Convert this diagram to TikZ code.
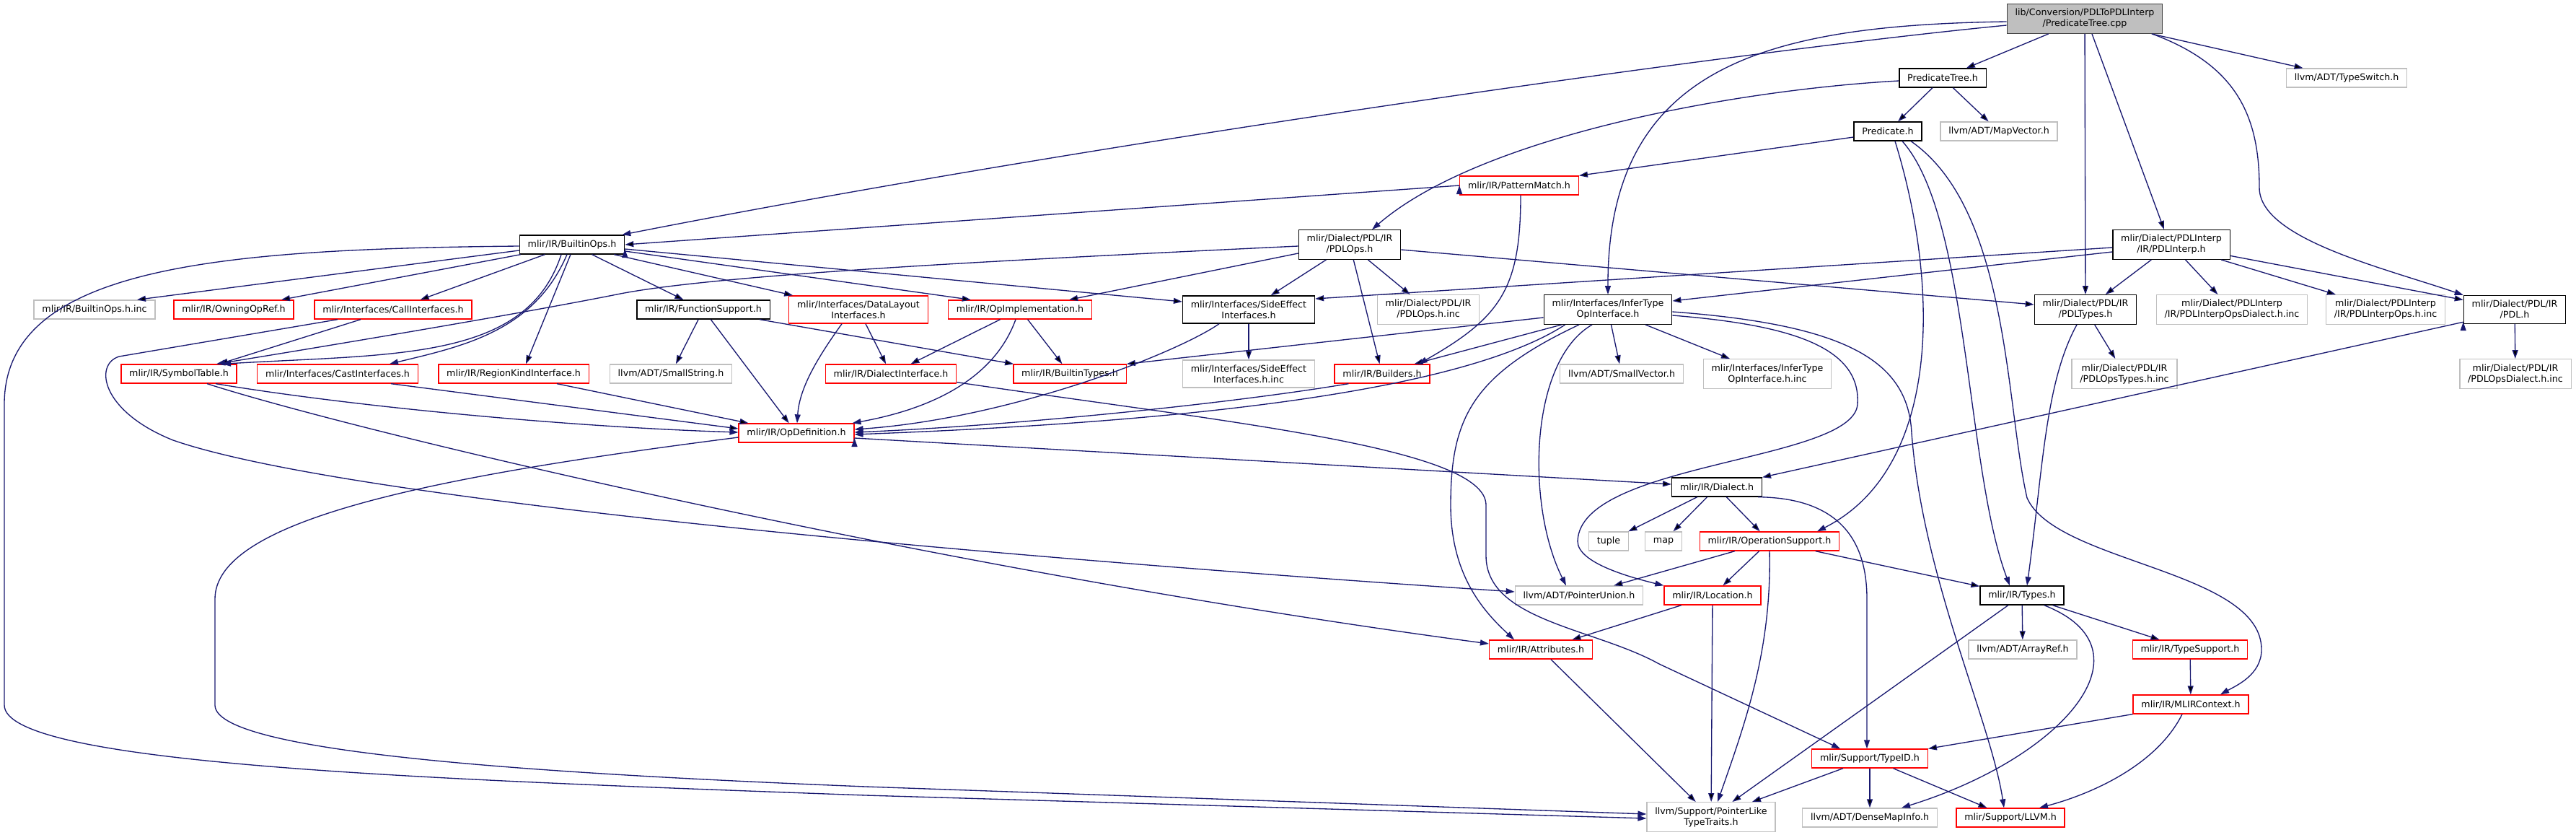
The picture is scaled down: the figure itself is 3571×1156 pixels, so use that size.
\documentclass[tikz,border=0pt]{standalone}
\usepackage{fontspec}
\setmainfont{DejaVu Sans}
\usetikzlibrary{arrows.meta,calc}
\definecolor{arco}{HTML}{191970}
\definecolor{grigio}{HTML}{BFBFBF}
\definecolor{scuro}{HTML}{404040}
\tikzset{
>={Triangle[length=9pt,width=6pt]},
file node/.style={rectangle,line width=1pt,align=center,inner xsep=8.5pt,inner ysep=5pt,minimum height=19.5pt,font=\fontsize{9.5}{11.25}\selectfont},
red node/.style={file node,draw=red},
grey node/.style={file node,draw=grigio},
dark node/.style={file node,draw=black},
src node/.style={file node,draw=scuro,fill=grigio},
incl/.style={->,draw=arco,line width=1pt}}

\begin{document}
\begin{tikzpicture}[x=0.75pt,y=-0.75pt]

\useasboundingbox (0,0) rectangle (3571,1156);

\node[src node] (root) at (2890,26) {lib/Conversion/PDLToPDLInterp\\/PredicateTree.cpp};
\node[dark node] (pt) at (2693,108) {PredicateTree.h};
\node[grey node] (tsw) at (3253,108) {llvm/ADT/TypeSwitch.h};
\node[dark node] (pred) at (2617,182) {Predicate.h};
\node[grey node] (mapvec) at (2771,182) {llvm/ADT/MapVector.h};
\node[red node] (patmatch) at (2106,257) {mlir/IR/PatternMatch.h};
\node[dark node] (bops) at (793,339) {mlir/IR/BuiltinOps.h};
\node[dark node] (pdlops) at (1871,339) {mlir/Dialect/PDL/IR\\/PDLOps.h};
\node[dark node] (pdli) at (3010,339) {mlir/Dialect/PDLInterp\\/IR/PDLInterp.h};

\node[grey node] (bopsinc) at (131,429) {mlir/IR/BuiltinOps.h.inc};
\node[red node] (owning) at (324,429) {mlir/IR/OwningOpRef.h};
\node[red node] (callif) at (545,429) {mlir/Interfaces/CallInterfaces.h};
\node[dark node] (funcsupp) at (975,429) {mlir/IR/FunctionSupport.h};
\node[red node] (datalayout) at (1190,429) {mlir/Interfaces/DataLayout\\Interfaces.h};
\node[red node] (opimpl) at (1414,429) {mlir/IR/OpImplementation.h};
\node[dark node] (sideeff) at (1731,429) {mlir/Interfaces/SideEffect\\Interfaces.h};
\node[grey node] (pdlopsinc) at (1980,429) {mlir/Dialect/PDL/IR\\/PDLOps.h.inc};
\node[dark node] (infer) at (2229,429) {mlir/Interfaces/InferType\\OpInterface.h};
\node[dark node] (pdltypes) at (2891,429) {mlir/Dialect/PDL/IR\\/PDLTypes.h};
\node[grey node] (opsdialinc) at (3094,429) {mlir/Dialect/PDLInterp\\/IR/PDLInterpOpsDialect.h.inc};
\node[grey node] (opsinc) at (3307,429) {mlir/Dialect/PDLInterp\\/IR/PDLInterpOps.h.inc};
\node[dark node] (pdl) at (3486,429) {mlir/Dialect/PDL/IR\\/PDL.h};

\node[red node] (symtab) at (248,518) {mlir/IR/SymbolTable.h};
\node[red node] (castif) at (468,518) {mlir/Interfaces/CastInterfaces.h};
\node[red node] (regionkind) at (712,518) {mlir/IR/RegionKindInterface.h};
\node[grey node] (smallstr) at (930,518) {llvm/ADT/SmallString.h};
\node[red node] (dialiface) at (1235,518) {mlir/IR/DialectInterface.h};
\node[red node] (builtintypes) at (1483,518) {mlir/IR/BuiltinTypes.h};
\node[grey node] (sideeffinc) at (1731,518) {mlir/Interfaces/SideEffect\\Interfaces.h.inc};
\node[red node] (builders) at (1916,518) {mlir/IR/Builders.h};
\node[grey node] (smallvec) at (2248,518) {llvm/ADT/SmallVector.h};
\node[grey node] (inferinc) at (2450,518) {mlir/Interfaces/InferType\\OpInterface.h.inc};
\node[grey node] (pdlopstypesinc) at (2945,518) {mlir/Dialect/PDL/IR\\/PDLOpsTypes.h.inc};
\node[grey node] (pdlopsdialinc) at (3487,518) {mlir/Dialect/PDL/IR\\/PDLOpsDialect.h.inc};

\node[red node] (opdef) at (1104,600) {mlir/IR/OpDefinition.h};
\node[dark node] (dialect) at (2380,675) {mlir/IR/Dialect.h};
\node[grey node] (tuple) at (2230,750) {tuple};
\node[grey node] (map) at (2306,750) {map};
\node[red node] (opsupport) at (2453,750) {mlir/IR/OperationSupport.h};
\node[grey node] (ptrunion) at (2189,825) {llvm/ADT/PointerUnion.h};
\node[red node] (location) at (2374,825) {mlir/IR/Location.h};
\node[dark node] (types) at (2803,825) {mlir/IR/Types.h};
\node[red node] (attrs) at (2136,900) {mlir/IR/Attributes.h};
\node[grey node] (arrayref) at (2804,900) {llvm/ADT/ArrayRef.h};
\node[red node] (typesupport) at (3036,900) {mlir/IR/TypeSupport.h};
\node[red node] (mlirctx) at (3037,976) {mlir/IR/MLIRContext.h};
\node[red node] (typeid) at (2592,1051) {mlir/Support/TypeID.h};
\node[grey node] (ptrlike) at (2372,1132) {llvm/Support/PointerLike\\TypeTraits.h};
\node[grey node] (densemap) at (2592,1133) {llvm/ADT/DenseMapInfo.h};
\node[red node] (llvm) at (2787,1133) {mlir/Support/LLVM.h};

\path[incl]
	(root) edge (pt)
	(root) edge (tsw)
	(root) edge (pdltypes)
	($(root.south)+(10,0)$) edge ($(pdli.north)+(-10,0)$)
	(pt) edge (pred)
	(pt) edge (mapvec)
	($(pred.west)+(0,8)$) edge (patmatch.north east)
	(patmatch.west) edge (bops.east);
\path[incl]
	($(bops.west)+(0,8)$) edge ($(bopsinc.north)+(59,0)$)
	($(bops.south west)+(2,0)$) edge ($(owning.north)+(66,0)$)
	(bops) edge (callif)
	($(bops.south)+(-2,0)$) edge ($(regionkind.north)+(17,0)$)
	(bops) edge (funcsupp)
	($(bops.south east)+(-15,0)$) edge ($(datalayout.north west)+(6,0)$)
	($(bops.east)+(0,9)$) edge ($(opimpl.north west)+(32,0)$)
	($(bops.east)+(0,6)$) edge ($(sideeff.west)+(0,-11)$);
\path[incl]
	(pdlops) edge (sideeff)
	(pdlops) edge (pdlopsinc)
	(pdlops) edge (builders)
	($(pdlops.west)+(0,12)$) edge ($(opimpl.north east)+(-32,0)$)
	($(pdlops.east)+(0,7)$) edge ($(pdltypes.west)+(0,-7)$)
	(pdli) edge (pdltypes)
	(pdli) edge (opsdialinc)
	(pdli) edge (opsinc)
	(pdli) edge (pdl)
	($(pdli.west)+(0,10)$) edge ($(infer.east)+(0,-12)$)
	($(pdli.west)+(0,4)$) edge ($(sideeff.east)+(0,-15)$)
	(pdltypes) edge (pdlopstypesinc)
	(pdl) edge (pdlopsdialinc)
	($(pdl.south west)+(0,-3)$) edge (dialect.north east);
\path[incl]
	($(callif.south)+(-45,0)$) edge ($(symtab.north)+(56,0)$)
	(funcsupp) edge (smallstr)
	(funcsupp) edge (opdef)
	(funcsupp) edge (builtintypes)
	(datalayout) edge (dialiface)
	(opimpl) edge (dialiface)
	(opimpl) edge (builtintypes)
	(sideeff) edge (sideeffinc)
	($(infer.west)+(0,11)$) edge (builtintypes.north east)
	($(infer.south west)+(25,0)$) edge ($(builders.north east)+(-22,0)$)
	(infer) edge (smallvec)
	(infer) edge (inferinc)
	($(castif.south)+(74,0)$) edge ($(opdef.west)+(0,-6)$)
	($(regionkind.south)+(60,0)$) edge ($(opdef.north west)+(14,0)$)
	($(opdef.east)+(0,7)$) edge ($(dialect.west)+(0,-4)$);
\path[incl]
	(dialect) edge (tuple)
	(dialect) edge (map)
	(dialect) edge (opsupport)
	(opsupport) edge (ptrunion)
	(opsupport) edge (location)
	(opsupport) edge (types)
	(location) edge (attrs)
	(location) edge (ptrlike)
	(types) edge (ptrlike)
	(types) edge (arrayref)
	(types) edge (typesupport)
	(attrs) edge (ptrlike)
	(typesupport) edge (mlirctx)
	(mlirctx) edge (typeid)
	(typeid) edge (ptrlike)
	(typeid) edge (densemap)
	(typeid) edge (llvm);

\draw[incl] ($(root.west)+(0,9)$) .. controls (2400,72) and (1500,200) .. ($(bops.north east)+(-4,0)$);
\draw[incl] ($(root.west)+(0,4)$) .. controls (2450,35) and (2228,90) .. (infer.north);
\draw[incl] ($(root.south east)+(-15,0)$) .. controls (3100,90) and (3132,160) .. (3132,260) .. controls (3132,330) and (3300,370) .. (pdl.north west);
\draw[incl] ($(pt.west)+(0,4)$) .. controls (2400,125) and (2050,190) .. ($(pdlops.north)+(31,0)$);
\draw[incl] ($(pred.south)+(10,0)$) .. controls (2690,400) and (2690,650) .. ($(opsupport.north)+(66,0)$);
\draw[incl] ($(pred.south)+(20,0)$) .. controls (2730,300) and (2725,650) .. ($(types.north)+(-17,0)$);
\draw[incl] ($(pred.south)+(32,0)$) .. controls (2785,290) and (2780,560) .. (2810,690) .. controls (2850,780) and (3135,790) .. (3135,900) .. controls (3135,935) and (3100,950) .. ($(mlirctx.north)+(41,0)$);
\draw[incl] ($(patmatch.south)+(2,0)$) .. controls (2108,400) and (2080,440) .. ($(builders.north east)+(-16,0)$);
\draw[incl] ($(bops.south)+(-15,0)$) .. controls (730,500) and (550,490) .. ($(symtab.north)+(60,0)$);
\draw[incl] ($(bops.south)+(-7,0)$) .. controls (740,460) and (640,480) .. ($(castif.north)+(72,0)$);
\draw[incl] ($(bops.west)+(0,2)$) .. controls (300,345) and (6,370) .. (6,560) -- (6,977) .. controls (6,1060) and (600,1080) .. (1200,1102) -- ($(ptrlike.west)+(0,2)$);
\draw[incl] ($(pdlops.west)+(0,2)$) .. controls (1400,360) and (1000,380) .. (860,407) .. controls (720,435) and (450,480) .. ($(symtab.north)+(52,0)$);
\draw[incl] ($(pdltypes.south)+(-12,0)$) .. controls (2835,530) and (2832,650) .. ($(types.north)+(7,0)$);
\draw[incl] ($(callif.south)+(-77,0)$) -- (165,494) .. controls (130,505) and (140,570) .. (240,610) .. controls (500,700) and (1500,780) .. ($(ptrunion.west)+(0,-5)$);
\draw[incl] ($(datalayout.south)+(-23,0)$) .. controls (1130,500) and (1108,540) .. ($(opdef.north)+(1,0)$);
\draw[incl] ($(opimpl.south)+(-6,0)$) .. controls (1380,520) and (1300,565) .. ($(opdef.north east)+(-3,0)$);
\draw[incl] ($(sideeff.south)+(-41,0)$) .. controls (1630,490) and (1400,580) .. ($(opdef.east)+(0,-5)$);
\draw[incl] ($(builders.south west)+(20,0)$) .. controls (1700,560) and (1400,590) .. ($(opdef.east)+(0,-1)$);
\draw[incl] ($(infer.south west)+(30,0)$) .. controls (2000,560) and (1500,590) .. ($(opdef.east)+(0,2)$);
\draw[incl] ($(infer.south)+(-40,0)$) .. controls (2040,520) and (2011,580) .. (2011,700) .. controls (2011,800) and (2060,850) .. ($(attrs.north)+(-37,0)$);
\draw[incl] ($(infer.south)+(-22,0)$) .. controls (2120,500) and (2115,700) .. ($(ptrunion.north)+(-18,0)$);
\draw[incl] ($(infer.east)+(0,8)$) .. controls (2480,450) and (2580,480) .. (2575,560) .. controls (2570,640) and (2190,640) .. (2187,750) .. controls (2187,780) and (2260,800) .. (location.north west);
\draw[incl] ($(infer.east)+(0,3)$) .. controls (2560,450) and (2645,500) .. (2650,600) .. controls (2665,800) and (2760,1000) .. ($(llvm.north)+(-9,0)$);
\draw[incl] ($(symtab.south)+(39,0)$) .. controls (500,600) and (1300,790) .. ($(attrs.west)+(0,-8)$);
\draw[incl] ($(symtab.south)+(51,0)$) .. controls (500,565) and (800,592) .. ($(opdef.west)+(0,-1)$);
\draw[incl] ($(dialiface.south east)+(0,-2)$) .. controls (1700,585) and (2060,620) .. (2060,700) -- (2060,770) .. controls (2060,860) and (2210,870) .. (2300,920) -- ($(typeid.north west)+(40,0)$);
\draw[incl] ($(opdef.west)+(0,6)$) .. controls (600,660) and (298,720) .. (298,830) -- (298,977) .. controls (298,1040) and (700,1070) .. (1200,1090) -- ($(ptrlike.west)+(0,-4)$);
\draw[incl] ($(dialect.south east)+(-6,0)$) .. controls (2560,690) and (2588,760) .. (2588,830) -- ($(typeid.north)+(-4,0)$);
\draw[incl] (opsupport.south) .. controls (2456,900) and (2420,1000) .. ($(ptrlike.north)+(9,0)$);
\draw[incl] ($(types.south east)+(-28,0)$) .. controls (2990,900) and (2860,1050) .. ($(densemap.north)+(44,0)$);
\draw[incl] ($(mlirctx.south)+(-12,0)$) .. controls (2990,1060) and (2900,1100) .. ($(llvm.north)+(40,0)$);
\end{tikzpicture}
\end{document}
